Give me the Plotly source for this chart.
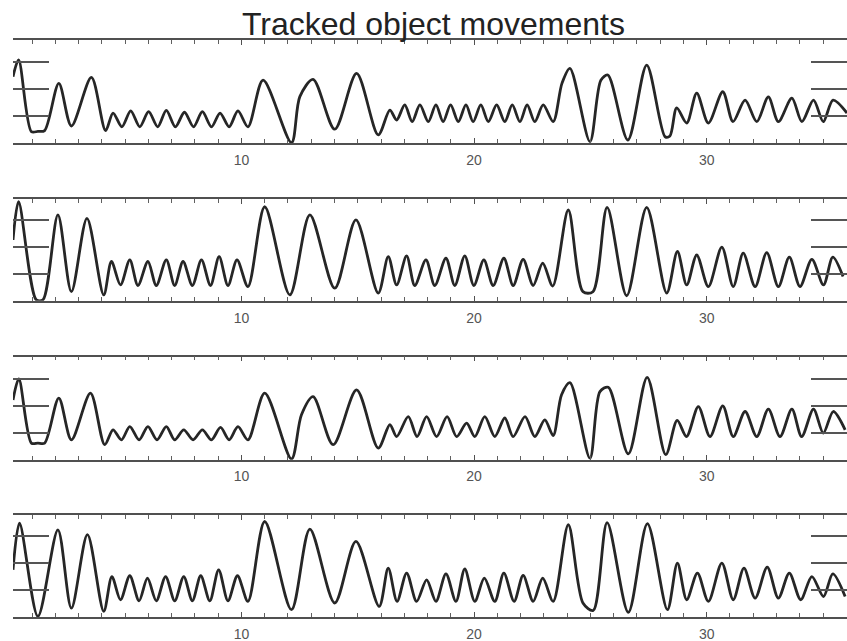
import plotly.graph_objects as go

title_text = "Tracked object movements"
tick_vals_x = [10, 20, 30]
tick_text_x = ["10", "20", "30"]
tick_vals_y = [1, 2, 3]

x1 = [0.18, 0.42, 0.97, 1.25, 1.54, 2.15, 2.69, 3.55, 4.16,
      4.48, 4.86, 5.24, 5.63, 6.01, 6.40, 6.77, 7.16, 7.55, 7.94, 8.32, 8.71, 9.08, 9.47, 9.85, 10.28,
      10.93, 12.15, 12.51, 13.08, 14.01, 14.95, 15.88,
      16.38, 16.67, 17.02, 17.34, 17.67, 18.03, 18.36, 18.67, 18.99, 19.32, 19.65, 19.96, 20.29, 20.61,
      20.97, 21.32, 21.64, 21.97, 22.28, 22.61, 22.97, 23.40,
      23.78, 24.12, 24.98, 25.45, 25.75, 26.61, 27.42, 28.21, 28.42,
      28.71, 29.14, 29.57, 30.07, 30.69, 31.13, 31.65, 32.15, 32.65, 33.08, 33.66, 34.09, 34.59, 35.01, 35.43, 36.03]
y1 = [2.47, 3.09, 0.43, 0.44, 0.47, 2.22, 0.64, 2.44, 0.47,
      1.12, 0.61, 1.20, 0.61, 1.17, 0.61, 1.22, 0.61, 1.15, 0.61, 1.17, 0.61, 1.12, 0.61, 1.20, 0.61,
      2.34, 0.02, 1.73, 2.37, 0.52, 2.59, 0.31,
      1.23, 0.86, 1.42, 0.80, 1.42, 0.80, 1.42, 0.80, 1.42, 0.80, 1.42, 0.80, 1.42, 0.80,
      1.42, 0.80, 1.42, 0.80, 1.42, 0.80, 1.42, 0.80,
      2.23, 2.78, 0.06, 2.34, 2.53, 0.12, 2.90, 0.24, 0.27,
      1.31, 0.75, 1.86, 0.75, 1.91, 0.80, 1.60, 0.80, 1.72, 0.80, 1.67, 0.80, 1.60, 0.80, 1.60, 1.12]

x2 = [0.18, 0.42, 1.18, 1.47, 2.11, 2.69, 3.36, 4.08,
      4.41, 4.80, 5.20, 5.55, 5.98, 6.34, 6.77, 7.13, 7.49, 7.89, 8.28, 8.67, 9.04, 9.42, 9.81, 10.28,
      11.0, 12.08, 12.94, 14.01, 14.92, 15.88,
      16.31, 16.67, 17.10, 17.45, 17.93, 18.31, 18.79, 19.17, 19.60, 19.99, 20.42, 20.82, 21.28, 21.68,
      22.11, 22.54, 22.95, 23.38,
      24.05, 24.68, 25.11, 25.72, 26.56, 27.42, 28.28,
      28.74, 29.14, 29.57, 30.07, 30.65, 31.14, 31.57, 32.08, 32.58, 33.08, 33.55, 34.01, 34.52, 35.02, 35.42, 35.86]
y2 = [2.26, 3.68, 0.04, 0.04, 3.19, 0.34, 3.06, 0.22,
      1.46, 0.59, 1.52, 0.57, 1.46, 0.57, 1.52, 0.57, 1.46, 0.57, 1.52, 0.57, 1.64, 0.57, 1.52, 0.53,
      3.49, 0.22, 3.19, 0.47, 3.0, 0.29,
      1.64, 0.59, 1.67, 0.57, 1.52, 0.57, 1.58, 0.57, 1.67, 0.57, 1.52, 0.57, 1.58, 0.57,
      1.54, 0.57, 1.40, 0.55,
      3.37, 0.34, 0.34, 3.47, 0.19, 3.47, 0.29,
      1.83, 0.59, 1.70, 0.53, 1.99, 0.53, 1.77, 0.53, 1.79, 0.53, 1.62, 0.53, 1.54, 0.59, 1.62, 0.90]

x3 = [0.18, 0.43, 0.97, 1.25, 1.54, 2.15, 2.69, 3.51, 4.12,
      4.48, 4.84, 5.20, 5.60, 5.98, 6.37, 6.77, 7.13, 7.52, 7.92, 8.32, 8.71, 9.10, 9.47, 9.85, 10.28,
      11.0, 12.15, 12.58, 13.08, 13.94, 14.95, 15.88,
      16.38, 16.67, 17.17, 17.55, 17.96, 18.39, 18.84, 19.25, 19.68, 20.03, 20.46, 20.89, 21.32, 21.68,
      22.19, 22.61, 23.04, 23.40,
      23.76, 24.12, 24.98, 25.41, 25.77, 26.63, 27.44, 28.24,
      28.73, 29.13, 29.64, 30.14, 30.69, 31.14, 31.65, 32.15, 32.65, 33.15, 33.66, 34.08, 34.59, 35.01, 35.44, 35.95]
y3 = [2.22, 3.0, 0.62, 0.62, 0.62, 2.29, 0.74, 2.47, 0.56,
      1.11, 0.74, 1.23, 0.74, 1.23, 0.74, 1.23, 0.74, 1.11, 0.74, 1.11, 0.74, 1.20, 0.74, 1.23, 0.74,
      2.47, 0.03, 1.67, 2.34, 0.56, 2.59, 0.43,
      1.30, 0.86, 1.60, 0.86, 1.60, 0.86, 1.60, 0.86, 1.36, 0.86, 1.60, 0.86, 1.55, 0.86,
      1.60, 0.86, 1.48, 0.90,
      2.41, 2.86, 0.06, 2.53, 2.69, 0.22, 3.06, 0.19,
      1.46, 0.86, 1.97, 0.86, 2.0, 0.86, 1.79, 0.86, 1.88, 0.86, 1.88, 0.86, 1.88, 0.99, 1.79, 1.11]

x4 = [0.18, 0.46, 1.25, 2.11, 2.69, 3.38, 4.08,
      4.43, 4.80, 5.20, 5.60, 5.96, 6.34, 6.74, 7.13, 7.52, 7.89, 8.25, 8.64, 9.02, 9.42, 9.83, 10.28,
      11.0, 12.15, 12.94, 14.01, 14.92, 15.92,
      16.31, 16.69, 17.10, 17.53, 17.96, 18.36, 18.79, 19.22, 19.60, 20.03, 20.44, 20.89, 21.28, 21.72,
      22.11, 22.54, 22.95, 23.40,
      24.05, 24.68, 25.12, 25.72, 26.63, 27.45, 28.31,
      28.74, 29.14, 29.60, 30.07, 30.65, 31.14, 31.60, 32.08, 32.60, 33.08, 33.55, 34.04, 34.52, 35.02, 35.42, 35.95]
y4 = [1.75, 3.48, 0.02, 3.23, 0.33, 3.05, 0.21,
      1.50, 0.64, 1.53, 0.60, 1.44, 0.60, 1.50, 0.60, 1.50, 0.60, 1.53, 0.60, 1.75, 0.60, 1.53, 0.58,
      3.54, 0.27, 3.26, 0.52, 2.80, 0.39,
      1.81, 0.58, 1.63, 0.58, 1.38, 0.58, 1.60, 0.58, 1.78, 0.58, 1.44, 0.58, 1.63, 0.58,
      1.54, 0.58, 1.44, 0.58,
      3.42, 0.52, 0.24, 3.50, 0.17, 3.46, 0.27,
      2.0, 0.64, 1.63, 0.58, 2.0, 0.64, 1.81, 0.70, 1.85, 0.70, 1.63, 0.64, 1.50, 0.76, 1.60, 0.76]

series = [(x1, y1), (x2, y2), (x3, y3), (x4, y4)]
domains = [[0.8211, 1.0], [0.5479, 0.7241], [0.2725, 0.4514], [0.0, 0.1772]]
y_ranges = [[0, 3.83], [0, 3.77], [0, 3.83], [0, 3.79]]
x_range = [0.18, 36.03]

FONT = "Liberation Sans, Arial, Helvetica, sans-serif"
fig = go.Figure()
layout = dict(
    width=847, height=641,
    margin=dict(l=13, r=0, t=40, b=24),
    paper_bgcolor="white", plot_bgcolor="white",
    showlegend=False,
    font=dict(family=FONT, color="#444"),
)
for i, (xs, ys) in enumerate(series):
    n = "" if i == 0 else str(i + 1)
    fig.add_trace(go.Scatter(
        x=xs, y=ys, mode="lines",
        line=dict(color="#262626", width=2.8, shape="spline", smoothing=0.85),
        xaxis="x" + n, yaxis="y" + n, hoverinfo="skip",
    ))
    layout["xaxis" + n] = dict(
        domain=[0, 1], anchor="y" + n, range=x_range,
        showline=True, mirror="ticks", linecolor="#505050", linewidth=1.8,
        ticks="inside", ticklen=5, tickwidth=1.4, tickcolor="#505050",
        tickvals=tick_vals_x, ticktext=tick_text_x,
        minor=dict(dtick=1, tick0=0, ticks="inside", ticklen=4, tickwidth=1.2, tickcolor="#606060"),
        showgrid=False, zeroline=False,
        tickfont=dict(size=14, color="#555", family=FONT),
        ticklabelstandoff=3,
    )
    layout["yaxis" + n] = dict(
        domain=domains[i], anchor="x" + n, range=y_ranges[i],
        showline=False, mirror="ticks",
        ticks="inside", ticklen=36, tickwidth=1.5, tickcolor="#555",
        tickvals=tick_vals_y, showticklabels=False,
        showgrid=False, zeroline=False,
    )

fig.update_layout(**layout)
fig.add_annotation(
    text=title_text, xref="paper", yref="paper", x=0.5036, y=1.028,
    xanchor="center", yanchor="middle", showarrow=False,
    font=dict(size=32, color="#222", family=FONT),
)
fig.write_html("out.html")
